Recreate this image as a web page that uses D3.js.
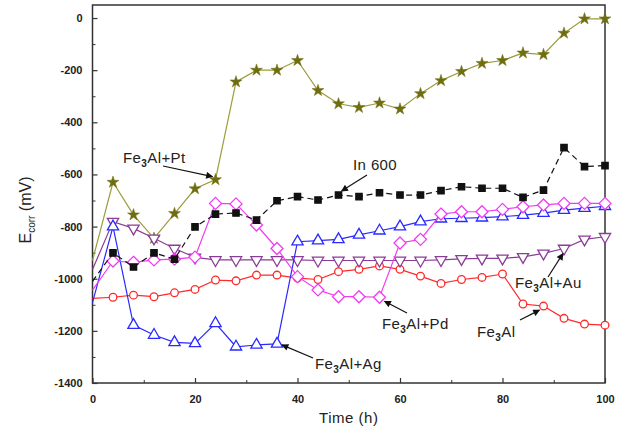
<!DOCTYPE html>
<html>
<head>
<meta charset="utf-8">
<script src="https://cdn.jsdelivr.net/npm/d3@7"></script>
<style>
  body { margin: 0; background: #fff; }
  svg { font-family: Arial, "Liberation Sans", sans-serif; }
</style>
</head>
<body>
<div id="chart"></div>
<script>
const times = [0, 4, 8, 12, 16, 20, 24, 28, 32, 36, 40, 44, 48, 52, 56, 60, 64, 68, 72, 76, 80, 84, 88, 92, 96, 100];

const fe3alPt = [-930, -630, -755, -845, -750, -655, -620, -245, -200, -200, -163, -278, -329, -343, -326, -349, -290, -240, -205, -174, -163, -134, -140, -58, -3, -3];
const in600 = [-1010, -901, -955, -901, -925, -801, -752, -748, -775, -701, -685, -698, -679, -685, -670, -679, -679, -662, -647, -653, -653, -688, -660, -497, -570, -566];
const fe3alPd = [-1044, -932, -937, -928, -925, -917, -711, -713, -794, -884, -992, -1043, -1069, -1069, -1071, -863, -849, -752, -743, -743, -734, -724, -717, -711, -711, -711];
const fe3alAg = [-1092, -800, -1178, -1216, -1244, -1248, -1171, -1261, -1254, -1250, -858, -854, -849, -832, -816, -800, -781, -770, -768, -766, -762, -756, -748, -737, -729, -722];
const fe3alAu = [-965, -781, -807, -845, -884, -918, -928, -928, -928, -928, -928, -930, -930, -930, -930, -930, -930, -928, -924, -922, -922, -916, -903, -884, -849, -839];
const fe3al = [-1075, -1071, -1063, -1069, -1054, -1041, -1005, -1008, -986, -986, -998, -1003, -973, -964, -951, -964, -990, -1018, -1003, -995, -982, -1097, -1105, -1152, -1174, -1178];

const xTicks = [0, 20, 40, 60, 80, 100];
const yTicks = [0, -200, -400, -600, -800, -1000, -1200, -1400];

const width = 623;
const height = 441;
const marginLeft = 92.5, plotRight = 605, plotTop = 5, plotBottom = 383;

const x = d3.scaleLinear().domain([0, 100]).range([marginLeft, plotRight]);
const y = d3.scaleLinear().domain([-1400, 50]).range([plotBottom, plotTop]);

const svg = d3.select("#chart").append("svg")
  .attr("width", width)
  .attr("height", height);

// arrow marker
svg.append("defs").append("marker")
  .attr("id", "arrow")
  .attr("viewBox", "0 0 10 10")
  .attr("refX", 9).attr("refY", 5)
  .attr("markerWidth", 9).attr("markerHeight", 7)
  .attr("markerUnits", "userSpaceOnUse")
  .attr("orient", "auto")
  .append("path").attr("d", "M0,0L10,5L0,10z").attr("fill", "#111");

// frame
svg.append("rect")
  .attr("x", marginLeft).attr("y", plotTop)
  .attr("width", plotRight - marginLeft).attr("height", plotBottom - plotTop)
  .attr("fill", "none").attr("stroke", "#333").attr("stroke-width", 1.5);

// minor ticks
svg.append("g")
  .attr("transform", `translate(0,${plotBottom})`)
  .call(d3.axisBottom(x).tickValues([10, 30, 50, 70, 90]).tickSizeInner(-3).tickSizeOuter(0).tickFormat(""))
  .call(g => g.select(".domain").remove())
  .selectAll("line").attr("stroke", "#333");
svg.append("g")
  .attr("transform", `translate(${marginLeft},0)`)
  .call(d3.axisLeft(y).tickValues([-100, -300, -500, -700, -900, -1100, -1300]).tickSizeInner(-3).tickSizeOuter(0).tickFormat(""))
  .call(g => g.select(".domain").remove())
  .selectAll("line").attr("stroke", "#333");

// major axes
const xAxis = svg.append("g")
  .attr("transform", `translate(0,${plotBottom})`)
  .call(d3.axisBottom(x).tickValues(xTicks).tickSizeInner(-5).tickSizeOuter(0).tickPadding(12)
    .tickFormat(d => String(d)));
const yAxis = svg.append("g")
  .attr("transform", `translate(${marginLeft},0)`)
  .call(d3.axisLeft(y).tickValues(yTicks).tickSizeInner(-5).tickSizeOuter(0).tickPadding(10)
    .tickFormat(d => String(d)));
[xAxis, yAxis].forEach(g => {
  g.select(".domain").remove();
  g.selectAll("line").attr("stroke", "#333").attr("stroke-width", 1.2);
  g.selectAll("text")
    .attr("fill", "#222")
    .style("font-size", "11px")
    .style("font-weight", "bold")
    .style("font-family", "Arial, 'Liberation Sans', sans-serif");
});

// axis titles
svg.append("text")
  .attr("x", (marginLeft + plotRight) / 2).attr("y", 423)
  .attr("text-anchor", "middle")
  .attr("font-size", 15).attr("fill", "#222")
  .attr("letter-spacing", 0.5)
  .text("Time (h)");

const yl = svg.append("text")
  .attr("transform", "translate(31,210) rotate(-90)")
  .attr("text-anchor", "middle")
  .attr("font-size", 16).attr("fill", "#222");
yl.append("tspan").text("E");
yl.append("tspan").attr("font-size", 10).attr("dy", 4).text("corr");
yl.append("tspan").attr("dy", -4).text(" (mV)");

// series
const line = d3.line().x((d, i) => x(times[i])).y(d => y(d));

const diamondPath = "M0,-6L6,0L0,6L-6,0Z";

const series = [
  { values: fe3alPt, color: "#9c9c3a", dash: null, marker: "star", fill: "#6e6e10", stroke: "#6e6e10" },
  { values: fe3al, color: "#ff2a2a", dash: null, marker: "circle", fill: "#fff", stroke: "#ff2a2a" },
  { values: fe3alAu, color: "#8a3d96", dash: null, marker: "down", fill: "#fff", stroke: "#8a3d96" },
  { values: fe3alAg, color: "#2a2aff", dash: null, marker: "up", fill: "#fff", stroke: "#2a2aff" },
  { values: fe3alPd, color: "#f03cf0", dash: null, marker: "diamond", fill: "#fff", stroke: "#f03cf0" },
  { values: in600, color: "#111", dash: "6,4", marker: "square", fill: "#111", stroke: "#111" }
];

series.forEach(s => {
  svg.append("path")
    .datum(s.values)
    .attr("fill", "none")
    .attr("stroke", s.color)
    .attr("stroke-width", 1.2)
    .attr("stroke-dasharray", s.dash)
    .attr("d", line);

  // the reading at t = 0 sits on the axis and has no symbol in the original
  const pts = svg.append("g").selectAll("path")
    .data(s.values.map((v, i) => ({ t: times[i], v })).filter(d => d.t > 0))
    .join("path")
    .attr("fill", s.fill)
    .attr("stroke", s.stroke)
    .attr("stroke-width", s.marker === "star" ? 0.5 : 1.3);

  const pos = d => `translate(${x(d.t)},${y(d.v)})`;
  if (s.marker === "star") {
    pts.attr("d", d3.symbol(d3.symbolStar, 44)).attr("transform", pos);
  } else if (s.marker === "circle") {
    pts.attr("d", d3.symbol(d3.symbolCircle, 46)).attr("transform", pos);
  } else if (s.marker === "square") {
    pts.attr("d", d3.symbol(d3.symbolSquare, 40)).attr("transform", pos);
  } else if (s.marker === "up") {
    pts.attr("d", d3.symbol(d3.symbolTriangle, 55)).attr("transform", pos);
  } else if (s.marker === "down") {
    pts.attr("d", d3.symbol(d3.symbolTriangle, 55)).attr("transform", d => pos(d) + " rotate(180)");
  } else if (s.marker === "diamond") {
    pts.attr("d", diamondPath).attr("transform", pos);
  }
});

// annotations: label, text position, arrow start and target data point
const notes = [
  { parts: ["Fe", "3", "Al+Pt"], tx: 123, ty: 163, ax: 163, ay: 166, t: 24, v: fe3alPt[6], dx: -3, dy: -3 },
  { parts: ["In 600"], tx: 353, ty: 170, ax: 367, ay: 175, t: 48, v: in600[12], dx: 3, dy: -4 },
  { parts: ["Fe", "3", "Al+Pd"], tx: 382, ty: 329, ax: 407, ay: 313, t: 56, v: fe3alPd[14], dx: 5, dy: 4 },
  { parts: ["Fe", "3", "Al+Ag"], tx: 315, ty: 369, ax: 313, ay: 358, t: 36, v: fe3alAg[9], dx: 5, dy: 1 },
  { parts: ["Fe", "3", "Al+Au"], tx: 515, ty: 288, ax: 548, ay: 277, t: 92, v: fe3alAu[23], dx: -1, dy: 5 },
  { parts: ["Fe", "3", "Al"], tx: 477, ty: 337, ax: 520, ay: 320, t: 88, v: fe3al[22], dx: -4, dy: 4 }
];

notes.forEach(n => {
  svg.append("line")
    .attr("x1", n.ax).attr("y1", n.ay)
    .attr("x2", x(n.t) + n.dx).attr("y2", y(n.v) + n.dy)
    .attr("stroke", "#111").attr("stroke-width", 1.2)
    .attr("marker-end", "url(#arrow)");
  const t = svg.append("text")
    .attr("x", n.tx).attr("y", n.ty)
    .attr("font-size", 15).attr("fill", "#222")
    .attr("letter-spacing", 0.4);
  if (n.parts.length === 1) {
    t.text(n.parts[0]);
  } else {
    t.append("tspan").text(n.parts[0]);
    t.append("tspan").attr("dy", 4).attr("font-size", 10).attr("font-weight", "bold").text(n.parts[1]);
    t.append("tspan").attr("dy", -4).text(n.parts[2]);
  }
});
</script>
</body>
</html>
